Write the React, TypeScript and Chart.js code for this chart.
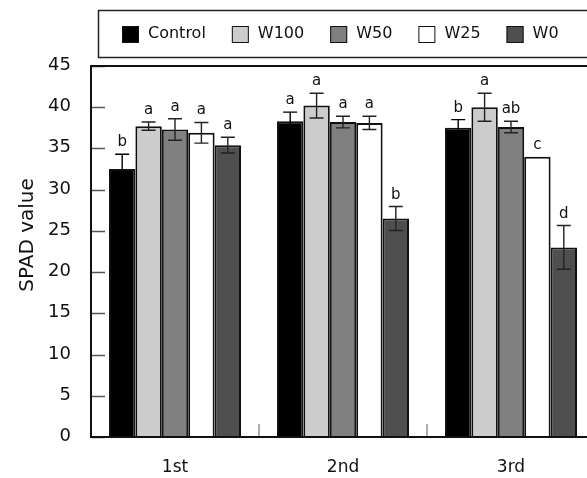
import React, { useEffect, useRef } from 'react';
import { Chart, registerables } from 'chart.js';

Chart.register(...registerables);

const categories = ['1st', '2nd', '3rd'];
const seriesNames = ['Control', 'W100', 'W50', 'W25', 'W0'];
const seriesColors = ['#000000', '#cccccc', '#808080', '#ffffff', '#4f4f4f'];

const controlValues = [32.5, 38.3, 37.5];
const w100Values = [37.7, 40.2, 40.0];
const w50Values = [37.3, 38.2, 37.6];
const w25Values = [36.9, 38.1, 34.0];
const w0Values = [35.4, 26.5, 23.0];

const controlErrors = [1.8, 1.1, 1.0];
const w100Errors = [0.5, 1.5, 1.7];
const w50Errors = [1.3, 0.7, 0.7];
const w25Errors = [1.25, 0.8, 0];
const w0Errors = [0.95, 1.45, 2.65];

const controlLetters = ['b', 'a', 'b'];
const w100Letters = ['a', 'a', 'a'];
const w50Letters = ['a', 'a', 'ab'];
const w25Letters = ['a', 'a', 'c'];
const w0Letters = ['a', 'b', 'd'];

const yTicks = [0, 5, 10, 15, 20, 25, 30, 35, 40, 45];
const yTitle = 'SPAD value';

const FONT = '"DejaVu Sans", sans-serif';

export default function App() {
  const ref = useRef<HTMLCanvasElement>(null);

  useEffect(() => {
    const values = [controlValues, w100Values, w50Values, w25Values, w0Values];
    const errors = [controlErrors, w100Errors, w50Errors, w25Errors, w0Errors];
    const letters = [controlLetters, w100Letters, w50Letters, w25Letters, w0Letters];

    const datasets = seriesNames.map((name, i) => ({
      label: name,
      data: values[i],
      backgroundColor: seriesColors[i],
      borderColor: '#111111',
      borderWidth: 2,
      categoryPercentage: 0.786,
      barPercentage: 1.0,
    }));

    const decor = {
      id: 'decor',
      afterDatasetsDraw(chart: any) {
        const ctx = chart.ctx;
        const area = chart.chartArea;
        const ys = chart.scales.y;
        const xs = chart.scales.x;
        ctx.save();

        // error bars and letters
        for (let i = 0; i < values.length; i++) {
          const meta = chart.getDatasetMeta(i);
          meta.data.forEach((bar: any, j: number) => {
            const v = values[i][j];
            const e = errors[i][j];
            const x = bar.x;
            const top = ys.getPixelForValue(v + e);
            if (e > 0) {
              const bot = ys.getPixelForValue(v - e);
              ctx.strokeStyle = i === 0 ? '#000000' : '#222222';
              ctx.lineWidth = 1.4;
              ctx.beginPath();
              ctx.moveTo(x, top);
              ctx.lineTo(x, bot);
              ctx.moveTo(x - 7, top);
              ctx.lineTo(x + 7, top);
              ctx.moveTo(x - 7, bot);
              ctx.lineTo(x + 7, bot);
              ctx.stroke();
            }
            ctx.fillStyle = '#111';
            ctx.font = `15px ${FONT}`;
            ctx.textAlign = 'center';
            ctx.textBaseline = 'alphabetic';
            ctx.fillText(letters[i][j], x, top - 8);
          });
        }

        // y ticks inward + labels
        ctx.strokeStyle = '#555';
        ctx.lineWidth = 1.5;
        ctx.fillStyle = '#111';
        ctx.font = `18px ${FONT}`;
        ctx.textAlign = 'right';
        ctx.textBaseline = 'alphabetic';
        yTicks.forEach((t) => {
          const py = Math.round(ys.getPixelForValue(t)) + 0.5;
          ctx.beginPath();
          ctx.moveTo(area.left, py);
          ctx.lineTo(area.left + 14, py);
          ctx.stroke();
          ctx.fillText(String(t), 71, py + 3);
        });

        // category separators
        ctx.strokeStyle = '#777';
        ctx.lineWidth = 1.2;
        for (let k = 1; k < categories.length; k++) {
          const px = (xs.getPixelForValue(k - 1) + xs.getPixelForValue(k)) / 2;
          ctx.beginPath();
          ctx.moveTo(px, area.bottom - 13);
          ctx.lineTo(px, area.bottom);
          ctx.stroke();
        }

        // frame
        ctx.strokeStyle = '#111';
        ctx.lineWidth = 2;
        ctx.beginPath();
        ctx.moveTo(area.right + 20, area.top);
        ctx.lineTo(area.left, area.top);
        ctx.lineTo(area.left, area.bottom);
        ctx.lineTo(area.right + 20, area.bottom);
        ctx.stroke();

        // x labels
        ctx.font = `17px ${FONT}`;
        ctx.textAlign = 'center';
        ctx.fillStyle = '#111';
        categories.forEach((c, k) => {
          ctx.fillText(c, xs.getPixelForValue(k), 472);
        });

        // y title
        ctx.save();
        ctx.translate(33, 235);
        ctx.rotate(-Math.PI / 2);
        ctx.font = `20px ${FONT}`;
        ctx.textAlign = 'center';
        ctx.textBaseline = 'alphabetic';
        ctx.fillText(yTitle, 0, 0);
        ctx.restore();

        // legend
        ctx.strokeStyle = '#222';
        ctx.lineWidth = 1.5;
        ctx.strokeRect(98.5, 10.5, 560, 47);
        ctx.font = `16px ${FONT}`;
        ctx.textAlign = 'left';
        let lx = 122;
        seriesNames.forEach((name, i) => {
          ctx.fillStyle = seriesColors[i];
          ctx.fillRect(lx, 26, 17, 17);
          ctx.strokeStyle = '#111';
          ctx.lineWidth = 1;
          ctx.strokeRect(lx + 0.5, 26.5, 16, 16);
          ctx.fillStyle = '#111';
          ctx.fillText(name, lx + 26, 38);
          lx += 26 + ctx.measureText(name).width + 26;
        });

        ctx.restore();
      },
    };

    const chart = new Chart(ref.current as HTMLCanvasElement, {
      type: 'bar',
      data: { labels: categories, datasets },
      options: {
        animation: false,
        responsive: false,
        layout: { padding: { left: 91, top: 66, right: 15, bottom: 41 } },
        plugins: { legend: { display: false }, tooltip: { enabled: false }, title: { display: false } },
        scales: {
          x: { display: false },
          y: { display: false, min: 0, max: 45 },
        },
      },
      plugins: [decor],
    });
    return () => chart.destroy();
  }, []);

  return (
    <div style={{ position: 'fixed', left: 0, top: 0, width: 587, height: 478, overflow: 'hidden', background: '#fff' }}>
      <canvas ref={ref} width={610} height={478} style={{ display: 'block' }} />
    </div>
  );
}
